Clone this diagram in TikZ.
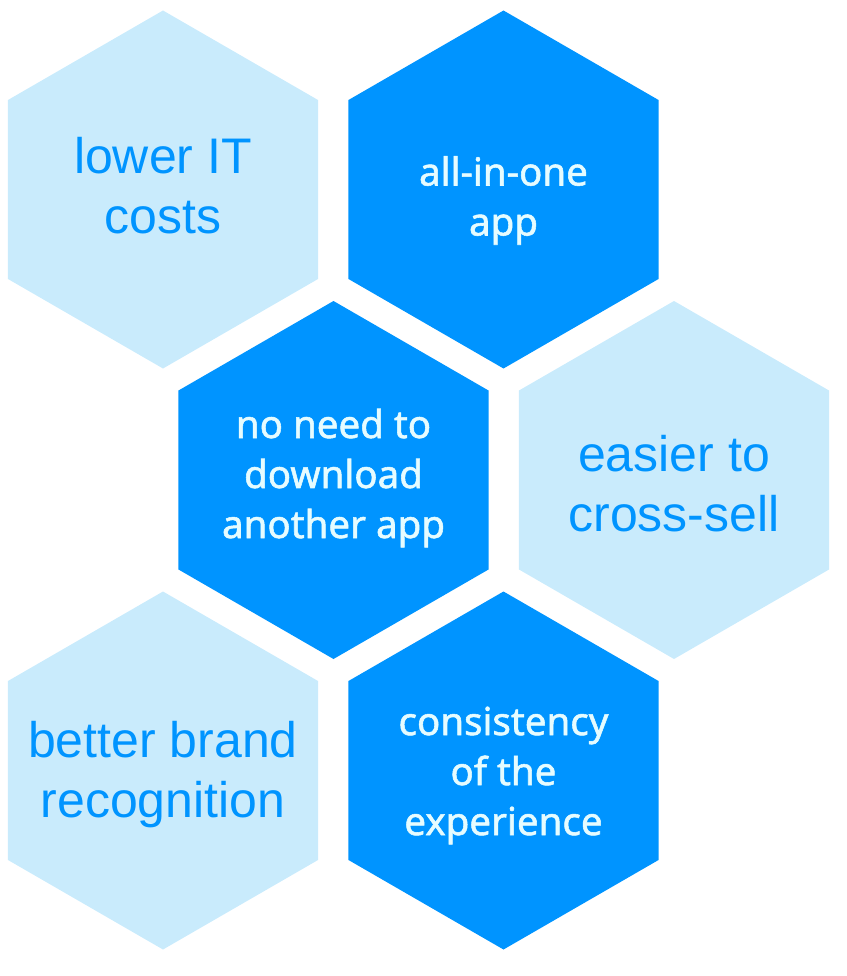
\documentclass[tikz,border=0pt]{standalone}
\usepackage{fontspec}
\setmainfont{Liberation Sans}
\newfontfamily\darkfont[FakeBold=1.4]{Noto Sans}
\usetikzlibrary{shapes.geometric}

\definecolor{hexlight}{HTML}{C9EBFC}
\definecolor{hexdark}{HTML}{0094FF}
\definecolor{txtpale}{HTML}{E6FCFF}

\tikzset{
    hexbase/.style={regular polygon, regular polygon sides=6, shape border rotate=30,
        minimum size=358pt, inner sep=0pt, draw=none},
    hexsoft/.style={hexbase, fill=hexlight},
    hexdeep/.style={hexbase, fill=hexdark},
    lightlbl/.style={align=center, text=hexdark, font=\fontsize{50}{60}\selectfont},
    darklbl/.style={align=center, text=txtpale, font=\darkfont\fontsize{38.5}{50}\selectfont},
}

\begin{document}
\begin{tikzpicture}[x=1pt, y=-1pt]
    \useasboundingbox (0,0) rectangle (846,976);

    % top row
    \node[hexsoft] (costs) at (163,189.5) {};
    \node[lightlbl, yshift=4pt] (coststxt) at (costs) {lower IT\\costs};
    \node[hexdeep] (allinone) at (503.5,189.5) {};
    \node[darklbl, yshift=-11pt] (allinonetxt) at (allinone) {all-in-one\\app};

    % middle row
    \node[hexdeep] (nodownload) at (333.5,480) {};
    \node[darklbl, yshift=2pt] (nodownloadtxt) at (nodownload) {no need to\\download\\another app};
    \node[hexsoft] (crosssell) at (674,480) {};
    \node[lightlbl, yshift=-4pt] (crossselltxt) at (crosssell) {easier to\\cross-sell};

    % bottom row
    \node[hexsoft] (brand) at (163,770.5) {};
    \node[lightlbl, yshift=-4pt] (brandtxt) at (brand) {better brand\\recognition};
    \node[hexdeep] (consistency) at (503.5,770.5) {};
    \node[darklbl, yshift=-5pt] (consistencytxt) at (consistency) {consistency\\of the\\experience};
\end{tikzpicture}
\end{document}
